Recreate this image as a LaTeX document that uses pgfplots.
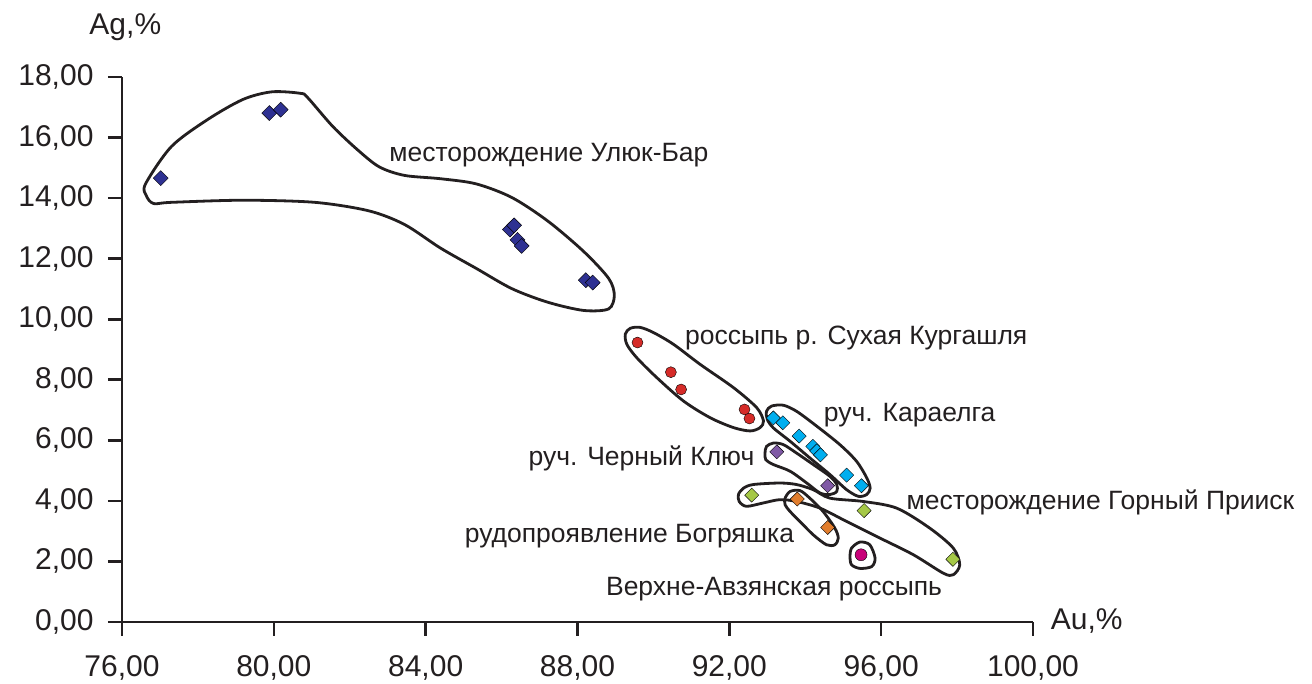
\documentclass[border=0pt]{standalone}
\usepackage{fontspec}
\setmainfont{Liberation Sans}
\usepackage{pgfplots}
\pgfplotsset{compat=1.18}
\definecolor{cnavy}{RGB}{46,49,146}
\definecolor{cred}{RGB}{213,43,40}
\definecolor{ccyan}{RGB}{0,174,239}
\definecolor{cpurple}{RGB}{128,90,165}
\definecolor{cgreen}{RGB}{165,200,70}
\definecolor{corange}{RGB}{225,125,45}
\definecolor{cmag}{RGB}{200,0,120}
\definecolor{ctext}{RGB}{35,31,32}
\tikzset{lab/.style={anchor=base west, font=\fontsize{26.5}{32}\selectfont, text=ctext}}
\begin{document}
\begin{tikzpicture}
\path[use as bounding box] (-122pt,-62pt) rectangle (1190pt,622pt);
\begin{axis}[
  at={(0,0)}, anchor=south west,
  scale only axis, width=911pt, height=545pt,
  xmin=76, xmax=100, ymin=0, ymax=18,
  axis lines=left,
  axis line style={-, line width=2.6pt, color=ctext},
  xtick={76,80,...,100}, ytick={0,2,...,18},
  tick align=outside,
  major tick length=14pt,
  every tick/.style={line width=2.6pt, ctext},
  tick label style={font=\fontsize{30}{36}\selectfont, text=ctext,
    /pgf/number format/fixed, /pgf/number format/fixed zerofill,
    /pgf/number format/precision=2, /pgf/number format/use comma,
    /pgf/number format/assume math mode=true},
  xticklabel style={yshift=-16pt},
  yticklabel style={xshift=-11pt},
  clip=false,
  hull/.style={no markers, smooth cycle, line width=2.8pt, ctext},
]
% hulls
\addplot[hull] coordinates {(76.62,14.47)(77.30,15.70)(78.25,16.59)(79.19,17.26)(79.95,17.51)(80.70,17.46)(80.89,17.32)(81.55,16.37)(82.21,15.59)(82.78,15.03)(83.44,14.75)(84.39,14.64)(85.33,14.47)(86.27,14.02)(87.22,13.24)(88.16,12.24)(88.82,11.35)(88.97,10.79)(88.82,10.34)(88.16,10.29)(87.22,10.56)(86.27,11.01)(85.33,11.68)(84.39,12.35)(83.44,13.13)(82.50,13.58)(81.08,13.86)(79.19,13.93)(77.30,13.86)(76.83,13.82)(76.64,14.08)};
\addplot[hull] coordinates {(89.26,9.51)(89.39,9.70)(89.65,9.73)(90.00,9.56)(90.53,9.17)(91.23,8.51)(92.11,7.74)(92.72,7.08)(92.90,6.64)(92.81,6.42)(92.55,6.31)(92.11,6.42)(91.49,6.75)(90.79,7.30)(90.09,8.07)(89.56,8.73)(89.30,9.17)};
\addplot[hull] coordinates {(92.98,6.96)(93.11,7.13)(93.42,7.16)(93.77,6.96)(94.30,6.47)(94.91,5.86)(95.35,5.31)(95.62,4.76)(95.71,4.42)(95.62,4.21)(95.40,4.15)(95.09,4.37)(94.65,4.87)(94.12,5.42)(93.60,5.97)(93.16,6.41)(93.00,6.69)};
\addplot[hull] coordinates {(92.94,5.58)(92.98,5.80)(93.16,5.91)(93.42,5.86)(93.77,5.58)(94.21,5.20)(94.65,4.81)(94.83,4.54)(94.83,4.31)(94.65,4.21)(94.39,4.26)(94.04,4.59)(93.60,4.98)(93.16,5.20)(92.96,5.36)};
\addplot[hull] coordinates {(92.24,4.21)(92.37,4.42)(92.63,4.54)(93.33,4.59)(93.77,4.54)(94.21,4.37)(94.65,4.09)(95.53,3.98)(96.41,3.76)(97.28,3.10)(97.90,2.44)(98.07,1.89)(97.90,1.56)(97.64,1.61)(96.85,2.22)(95.97,2.77)(95.09,3.32)(94.39,3.76)(93.77,3.98)(93.33,4.04)(92.89,3.93)(92.45,3.82)(92.26,3.98)};
\addplot[hull] coordinates {(93.47,4.09)(93.60,4.31)(93.86,4.34)(94.12,4.09)(94.47,3.65)(94.78,3.10)(94.87,2.77)(94.78,2.55)(94.56,2.55)(94.21,2.88)(93.86,3.32)(93.60,3.65)(93.47,3.87)};
\addplot[hull] coordinates {(95.22,2.44)(95.44,2.64)(95.70,2.55)(95.84,2.11)(95.75,1.83)(95.44,1.77)(95.22,1.89)(95.18,2.16)};
% points
\addplot[only marks, mark=square*, mark size=5.3pt, mark options={rotate=45, draw=none, fill=cnavy}] coordinates {(77.02,14.66)(79.88,16.81)(80.18,16.92)(86.22,12.96)(86.33,13.10)(86.42,12.62)(86.53,12.42)(88.22,11.29)(88.40,11.21)};
\addplot[only marks, mark=*, mark size=5.5pt, mark options={draw=none, fill=cred}] coordinates {(89.58,9.23)(90.46,8.25)(90.73,7.68)(92.40,7.02)(92.53,6.72)};
\addplot[only marks, mark=square*, mark size=5pt, mark options={rotate=45, draw=none, fill=ccyan}] coordinates {(93.16,6.74)(93.41,6.58)(93.84,6.14)(94.20,5.80)(94.30,5.65)(94.40,5.52)(95.09,4.85)(95.48,4.50)};
\addplot[only marks, mark=square*, mark size=5pt, mark options={rotate=45, draw=none, fill=cpurple}] coordinates {(93.25,5.62)(94.59,4.50)};
\addplot[only marks, mark=square*, mark size=5pt, mark options={rotate=45, draw=none, fill=cgreen}] coordinates {(92.59,4.19)(95.55,3.68)(97.89,2.07)};
\addplot[only marks, mark=square*, mark size=5pt, mark options={rotate=45, draw=none, fill=corange}] coordinates {(93.79,4.06)(94.59,3.12)};
\addplot[only marks, mark=*, mark size=6pt, mark options={draw=none, fill=cmag}] coordinates {(95.47,2.22)};
% labels
\node[lab] at (axis cs:82.95,15.20) {месторождение Улюк-Бар};
\node[lab] at (axis cs:90.74,9.18) {россыпь р. Сухая Кургашля};
\node[lab] at (axis cs:94.40,6.63) {руч. Караелга};
\node[lab] at (axis cs:86.62,5.18) {руч. Черный Ключ};
\node[lab] at (axis cs:96.58,3.73) {месторождение Горный Прииск};
\node[lab] at (axis cs:84.94,2.61) {рудопроявление Богряшка};
\node[lab] at (axis cs:88.66,0.89) {Верхне-Авзянская россыпь};
\node[lab, font=\fontsize{30}{36}\selectfont] at (axis cs:100.38,-0.26) {Au,\%};
\node[lab, font=\fontsize{30}{36}\selectfont] at (axis cs:75.05,19.40) {Ag,\%};
\end{axis}
\end{tikzpicture}
\end{document}
